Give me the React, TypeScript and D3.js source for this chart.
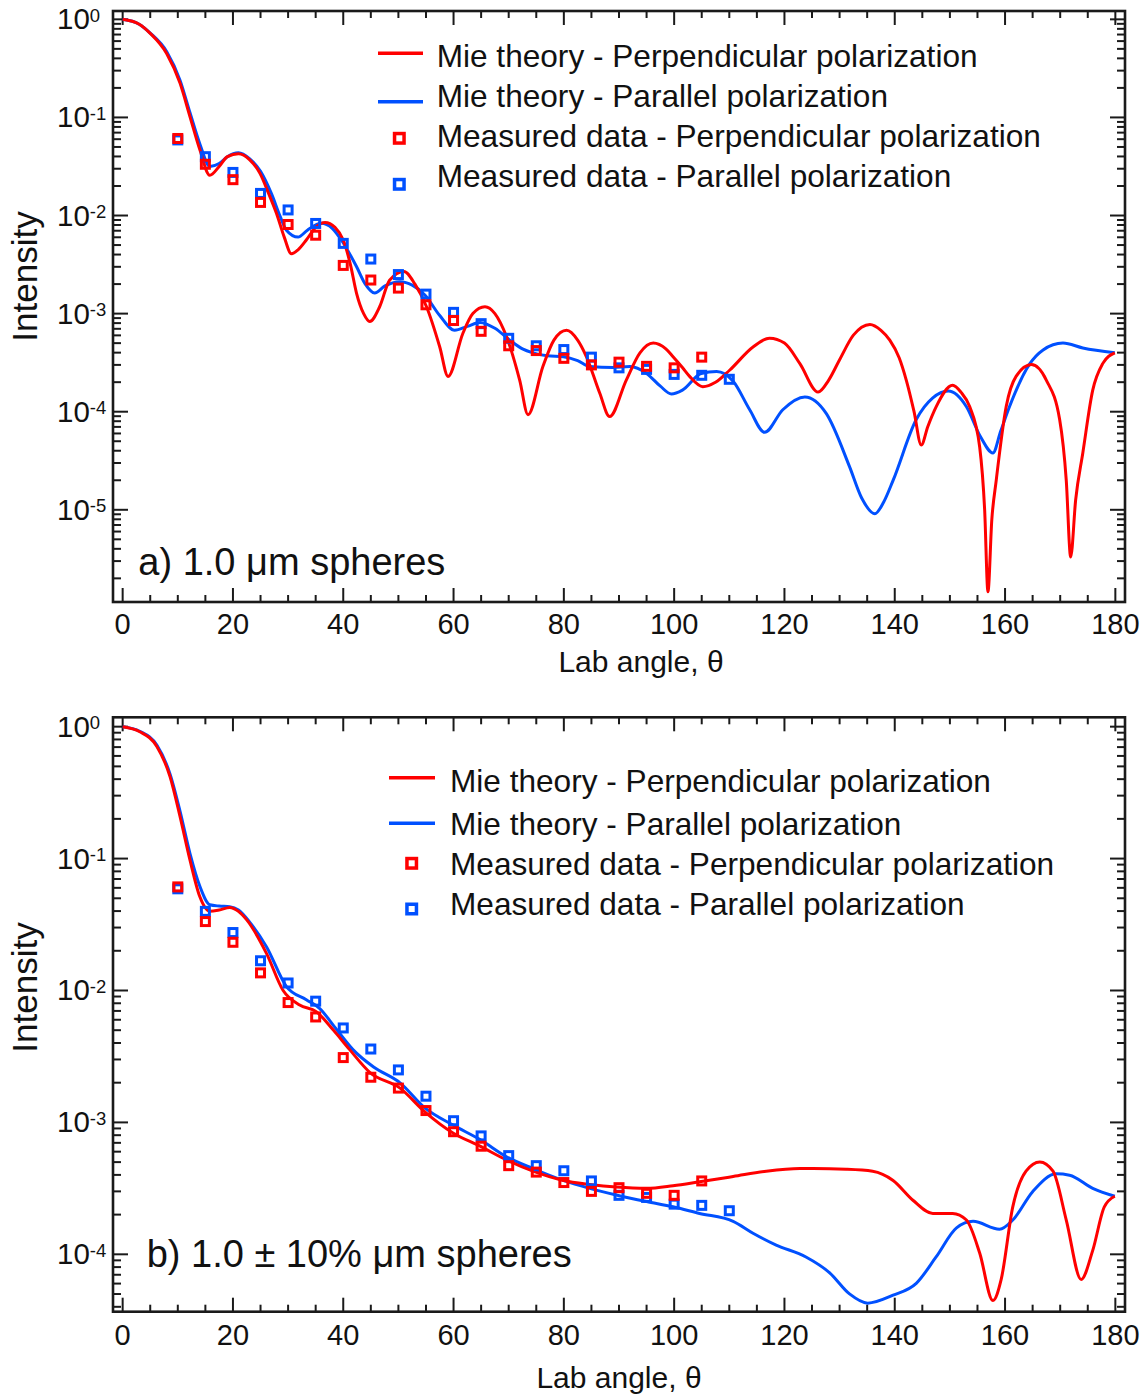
import React from "react";
import * as d3 from "d3";

const FONT = "'Liberation Sans', Arial, Helvetica, sans-serif";
const RED = "#ff0000";
const BLUE = "#0050ff";
const INK = "#1a1a1a";

// ---------- DATA ----------
// Measured data (same in both panels)
const measuredAnglesPerp = [10, 15, 20, 25, 30, 35, 40, 45, 50, 55, 60, 65, 70, 75, 80, 85, 90, 95, 100, 105];
const measuredPerp = [0.061, 0.0333, 0.0232, 0.0136, 0.0081, 0.0063, 0.0031, 0.0022, 0.00182, 0.00123, 0.00085, 0.00066, 0.00047, 0.00042, 0.00035, 0.0003, 0.00032, 0.00029, 0.00028, 0.00036];
const measuredAnglesPar = [10, 15, 20, 25, 30, 35, 40, 45, 50, 55, 60, 65, 70, 75, 80, 85, 90, 95, 100, 105, 110];
const measuredPar = [0.059, 0.0398, 0.0275, 0.0168, 0.0114, 0.0083, 0.0052, 0.0036, 0.0025, 0.00158, 0.00103, 0.00079, 0.00056, 0.00047, 0.00043, 0.00036, 0.00028, 0.00027, 0.00024, 0.000235, 0.000214];

const xTickValues = [0, 20, 40, 60, 80, 100, 120, 140, 160, 180];

// Theory curves: [lab angle in degrees, log10(intensity)]
const perpTheoryA: [number, number][] = [
  [0, 0], [3, -0.05], [5, -0.143], [8, -0.35], [10.4, -0.65], [12.2, -0.99], [14, -1.33], [15.8, -1.59],
  [17.5, -1.5], [19, -1.4], [21, -1.37], [23, -1.43], [24.9, -1.57], [26.5, -1.78], [27.9, -1.98],
  [29.3, -2.22], [30.6, -2.39], [31.8, -2.35], [33.3, -2.25], [35, -2.12], [36.7, -2.07], [38.5, -2.12],
  [40, -2.25], [41.3, -2.5], [42.4, -2.79], [43.7, -3.0], [44.8, -3.08], [46.6, -2.93], [48.4, -2.66],
  [51, -2.57], [53, -2.7], [55.1, -2.93], [57.5, -3.34], [59, -3.64], [61.7, -3.2], [63.5, -3.0],
  [65.7, -2.93], [67.5, -3.0], [69.6, -3.235], [72, -3.68], [73.5, -4.03], [76.2, -3.54], [78.2, -3.27],
  [80.5, -3.17], [82.5, -3.27], [84.1, -3.44], [86.5, -3.81], [88.3, -4.05], [91.3, -3.68], [93.8, -3.4],
  [96.2, -3.3], [98.5, -3.36], [99.8, -3.44], [101.5, -3.55], [102.8, -3.64], [105.2, -3.745], [107.5, -3.7],
  [110.1, -3.575], [114.3, -3.34], [117.3, -3.25], [120, -3.3], [122.8, -3.51], [126.1, -3.8], [128, -3.68],
  [130, -3.47], [132.5, -3.22], [135.5, -3.11], [137.5, -3.17], [139.1, -3.27], [140.8, -3.45], [142.1, -3.68],
  [143.5, -4.0], [144.8, -4.34], [146, -4.15], [147.5, -3.95], [150.5, -3.73], [152, -3.8], [153.6, -3.95],
  [155.4, -4.36], [156.3, -5.0], [156.9, -5.835], [157.6, -5.1], [158.4, -4.7], [160.2, -3.95], [162, -3.64],
  [164.8, -3.52], [167.5, -3.68], [169.9, -4.08], [171.1, -4.7], [171.9, -5.48], [172.8, -4.9], [174.1, -4.42],
  [175.9, -3.78], [177.7, -3.51], [179.9, -3.4],
];

const parTheoryA: [number, number][] = [
  [0, 0], [3, -0.05], [5, -0.14], [8, -0.33], [10.4, -0.62], [12.2, -0.95], [14, -1.27], [15.8, -1.5],
  [17.5, -1.47], [19, -1.4], [21, -1.36], [23, -1.42], [25, -1.55], [27, -1.78], [28.5, -2.0], [29.7, -2.15],
  [31.8, -2.22], [33.5, -2.15], [36, -2.08], [38, -2.13], [40, -2.28], [42.4, -2.52], [44, -2.7],
  [45.7, -2.79], [47.5, -2.72], [50.3, -2.675], [52.5, -2.71], [54.8, -2.81], [57.5, -3.02], [60.2, -3.17],
  [62.5, -3.13], [64.8, -3.09], [67.5, -3.15], [70.2, -3.27], [72.5, -3.36], [74.4, -3.4], [77, -3.43],
  [79.9, -3.44], [82.5, -3.48], [84.7, -3.54], [88.9, -3.55], [92, -3.54], [95, -3.61], [97.5, -3.74],
  [99.5, -3.82], [101.5, -3.78], [104.9, -3.61], [107.7, -3.59], [110.7, -3.69], [113.7, -3.98],
  [116.4, -4.21], [119.7, -3.98], [123.7, -3.85], [127.6, -4.02], [131.8, -4.56], [134, -4.88],
  [136.4, -5.04], [138, -4.92], [139.7, -4.7], [143.9, -4.08], [146.9, -3.86], [149.7, -3.79], [153, -3.95],
  [155.5, -4.25], [157.8, -4.42], [159.2, -4.2], [160.8, -3.95], [164.5, -3.51], [166.9, -3.37],
  [170.5, -3.3], [174.1, -3.35], [179.9, -3.4],
];

const perpTheoryB: [number, number][] = [
  [0, 0], [3.1, -0.038], [6.2, -0.15], [8.6, -0.38], [10.4, -0.68], [12.2, -1.01], [14, -1.29], [15.8, -1.4],
  [17.5, -1.39], [19.4, -1.37], [21, -1.4], [22.5, -1.465], [26.1, -1.72], [29.1, -2.0], [32.1, -2.11],
  [35.1, -2.16], [38.2, -2.3], [41.2, -2.45], [44.8, -2.62], [50.3, -2.74], [54.8, -2.92], [59.9, -3.08],
  [64.8, -3.18], [69.6, -3.285], [74.4, -3.37], [79.9, -3.44], [84.7, -3.47], [89.5, -3.49], [95, -3.5],
  [99.8, -3.48], [104.6, -3.45], [110.7, -3.41], [116.7, -3.37], [122.8, -3.35], [125.2, -3.35],
  [131.2, -3.355], [136, -3.37], [139.7, -3.44], [143.3, -3.59], [146.9, -3.69], [150.5, -3.69],
  [153, -3.74], [155.4, -3.99], [157.8, -4.35], [159.3, -4.19], [161.4, -3.64], [163.8, -3.37],
  [166.3, -3.3], [168.7, -3.37], [171.1, -3.74], [173.8, -4.19], [175.9, -3.97], [178, -3.64], [179.9, -3.56],
];

const parTheoryB: [number, number][] = [
  [0, 0], [3.1, -0.035], [6.2, -0.14], [8.6, -0.36], [10.4, -0.64], [12.2, -0.96], [14, -1.21], [15.8, -1.35],
  [17.5, -1.36], [19.4, -1.365], [21, -1.39], [23, -1.48], [26.1, -1.67], [29.7, -1.97], [33.3, -2.07],
  [35.7, -2.135], [38.5, -2.28], [41.8, -2.45], [45.5, -2.58], [50.3, -2.7], [54.8, -2.89], [59.9, -3.02],
  [64.8, -3.13], [69.6, -3.26], [74.4, -3.35], [79.9, -3.44], [84.7, -3.5], [89.5, -3.55], [95, -3.6],
  [99.8, -3.64], [104.6, -3.69], [110.7, -3.75], [114.3, -3.84], [118.5, -3.93], [123.9, -4.02],
  [128.2, -4.14], [131.8, -4.3], [135.1, -4.37], [139.7, -4.31], [143.9, -4.22], [147.5, -4.02],
  [151.2, -3.8], [154.2, -3.75], [159, -3.81], [161.4, -3.74], [165, -3.525], [169.3, -3.39], [171.7, -3.4],
  [175.9, -3.5], [179.9, -3.56],
];

const legendLabels = [
  "Mie theory - Perpendicular polarization",
  "Mie theory - Parallel polarization",
  "Measured data - Perpendicular polarization",
  "Measured data - Parallel polarization",
];

// ---------- LAYOUT ----------
type Pt = [number, number];
interface PanelCfg {
  id: string;
  top: number;
  bottom: number;
  expLo: number;
  expHi: number;
  perp: Pt[];
  par: Pt[];
  label: string;
  labelX: number;
  labelY: number;
  legLineX: [number, number];
  legTextX: number;
  legLineY: [number, number];
  legMarkX: number;
  legMarkY: [number, number];
  legBase: number[];
  yTitleY: number;
  xTitleX: number;
  xTitleY: number;
  xTickBase: number;
}

const LEFT = 113;
const RIGHT = 1125;
const X_DOMAIN: [number, number] = [-1.75, 181.75];

function Square({ cx, cy, s, color, w }: { cx: number; cy: number; s: number; color: string; w: number }) {
  return <rect x={cx - s / 2} y={cy - s / 2} width={s} height={s} fill="none" stroke={color} strokeWidth={w} />;
}

function Panel({ c }: { c: PanelCfg }) {
  const x = d3.scaleLinear().domain(X_DOMAIN).range([LEFT, RIGHT]);
  const y = d3.scaleLog().domain([10 ** c.expLo, 10 ** c.expHi]).range([c.bottom, c.top]);
  const line = d3
    .line<Pt>()
    .x((d) => x(d[0]))
    .y((d) => y(10 ** d[1]))
    .curve(d3.curveMonotoneX);

  const xTicks = d3.range(0, 181, 5);
  const yTicks: { v: number; major: boolean }[] = [];
  for (let k = Math.floor(c.expLo); k <= Math.ceil(c.expHi); k++) {
    for (let m = 1; m <= 9; m++) {
      const v = m * 10 ** k;
      const e = Math.log10(v);
      if (e >= c.expLo && e <= c.expHi) yTicks.push({ v, major: m === 1 });
    }
  }
  const yLabels = d3.range(Math.ceil(c.expLo), Math.floor(c.expHi) + 1);

  return (
    <g>
      <defs>
        <clipPath id={"clip-" + c.id}>
          <rect x={LEFT} y={c.top} width={RIGHT - LEFT} height={c.bottom - c.top} />
        </clipPath>
      </defs>
      {/* ticks */}
      <g stroke={INK} strokeWidth={2}>
        {xTicks.map((t) => {
          const len = t % 20 === 0 ? 14 : 7;
          return (
            <g key={"xt" + t}>
              <line x1={x(t)} x2={x(t)} y1={c.bottom} y2={c.bottom - len} />
              <line x1={x(t)} x2={x(t)} y1={c.top} y2={c.top + len} />
            </g>
          );
        })}
        {yTicks.map((t, i) => {
          const len = t.major ? 15 : 8;
          return (
            <g key={"yt" + i}>
              <line x1={LEFT} x2={LEFT + len} y1={y(t.v)} y2={y(t.v)} />
              <line x1={RIGHT} x2={RIGHT - len} y1={y(t.v)} y2={y(t.v)} />
            </g>
          );
        })}
      </g>
      {/* curves */}
      <g clipPath={`url(#clip-${c.id})`} fill="none" strokeWidth={3} strokeLinejoin="round">
        <path d={line(c.par) || ""} stroke={BLUE} />
        <path d={line(c.perp) || ""} stroke={RED} />
      </g>
      {/* measured */}
      <g>
        {measuredAnglesPar.map((a, i) => (
          <Square key={"mb" + i} cx={x(a)} cy={y(measuredPar[i])} s={8} color={BLUE} w={3} />
        ))}
        {measuredAnglesPerp.map((a, i) => (
          <Square key={"mr" + i} cx={x(a)} cy={y(measuredPerp[i])} s={8} color={RED} w={3} />
        ))}
      </g>
      {/* frame */}
      <rect x={LEFT} y={c.top} width={RIGHT - LEFT} height={c.bottom - c.top} fill="none" stroke={INK} strokeWidth={2.6} />
      {/* tick labels */}
      <g fontFamily={FONT} fill="#111">
        {xTickValues.map((t) => (
          <text key={"xl" + t} x={x(t)} y={c.xTickBase} fontSize={29} textAnchor="middle">
            {t}
          </text>
        ))}
        {yLabels.map((e) => (
          <text key={"yl" + e} x={57} y={y(10 ** e) + 10} fontSize={29.5}>
            <tspan>10</tspan>
            <tspan dy={-7.5} fontSize={18.5}>
              {e === 0 ? "0" : "-" + Math.abs(e)}
            </tspan>
          </text>
        ))}
        <text
          transform={`translate(37,${c.yTitleY}) rotate(-90)`}
          textAnchor="middle"
          fontSize={35}
        >
          Intensity
        </text>
        <text x={c.xTitleX} y={c.xTitleY} textAnchor="middle" fontSize={30}>
          Lab angle, θ
        </text>
        <text x={c.labelX} y={c.labelY} fontSize={38}>
          {c.label}
        </text>
      </g>
      {/* legend */}
      <g fontFamily={FONT} fill="#111" fontSize={31.6}>
        <line x1={c.legLineX[0]} x2={c.legLineX[1]} y1={c.legLineY[0]} y2={c.legLineY[0]} stroke={RED} strokeWidth={3.5} />
        <line x1={c.legLineX[0]} x2={c.legLineX[1]} y1={c.legLineY[1]} y2={c.legLineY[1]} stroke={BLUE} strokeWidth={3.5} />
        <Square cx={c.legMarkX} cy={c.legMarkY[0]} s={9.5} color={RED} w={3.5} />
        <Square cx={c.legMarkX} cy={c.legMarkY[1]} s={9.5} color={BLUE} w={3.5} />
        {legendLabels.map((l, i) => (
          <text key={"lg" + i} x={c.legTextX} y={c.legBase[i]}>
            {l}
          </text>
        ))}
      </g>
    </g>
  );
}

const panelA: PanelCfg = {
  id: "a",
  top: 11,
  bottom: 602,
  expLo: -5.94,
  expHi: 0.085,
  perp: perpTheoryA,
  par: parTheoryA,
  label: "a) 1.0 μm spheres",
  labelX: 138.3,
  labelY: 575,
  legLineX: [378, 423],
  legTextX: 436.7,
  legLineY: [53.3, 101.7],
  legMarkX: 399.3,
  legMarkY: [138.3, 184.3],
  legBase: [66.7, 106.7, 146.7, 186.7],
  yTitleY: 276.5,
  xTitleX: 641,
  xTitleY: 672,
  xTickBase: 633.5,
};

const panelB: PanelCfg = {
  id: "b",
  top: 717.3,
  bottom: 1311.7,
  expLo: -4.435,
  expHi: 0.071,
  perp: perpTheoryB,
  par: parTheoryB,
  label: "b) 1.0 ± 10% μm spheres",
  labelX: 146.7,
  labelY: 1266.7,
  legLineX: [389, 435],
  legTextX: 450,
  legLineY: [777.7, 823.3],
  legMarkX: 411.7,
  legMarkY: [863.3, 909],
  legBase: [792, 835, 875, 915],
  yTitleY: 987.5,
  xTitleX: 619,
  xTitleY: 1388,
  xTickBase: 1345,
};

export default function App() {
  return (
    <svg
      width={1148}
      height={1395}
      viewBox="0 0 1148 1395"
      style={{ position: "absolute", left: 0, top: 0, background: "#fff" }}
    >
      <rect x={0} y={0} width={1148} height={1395} fill="#fff" />
      <Panel c={panelA} />
      <Panel c={panelB} />
    </svg>
  );
}
